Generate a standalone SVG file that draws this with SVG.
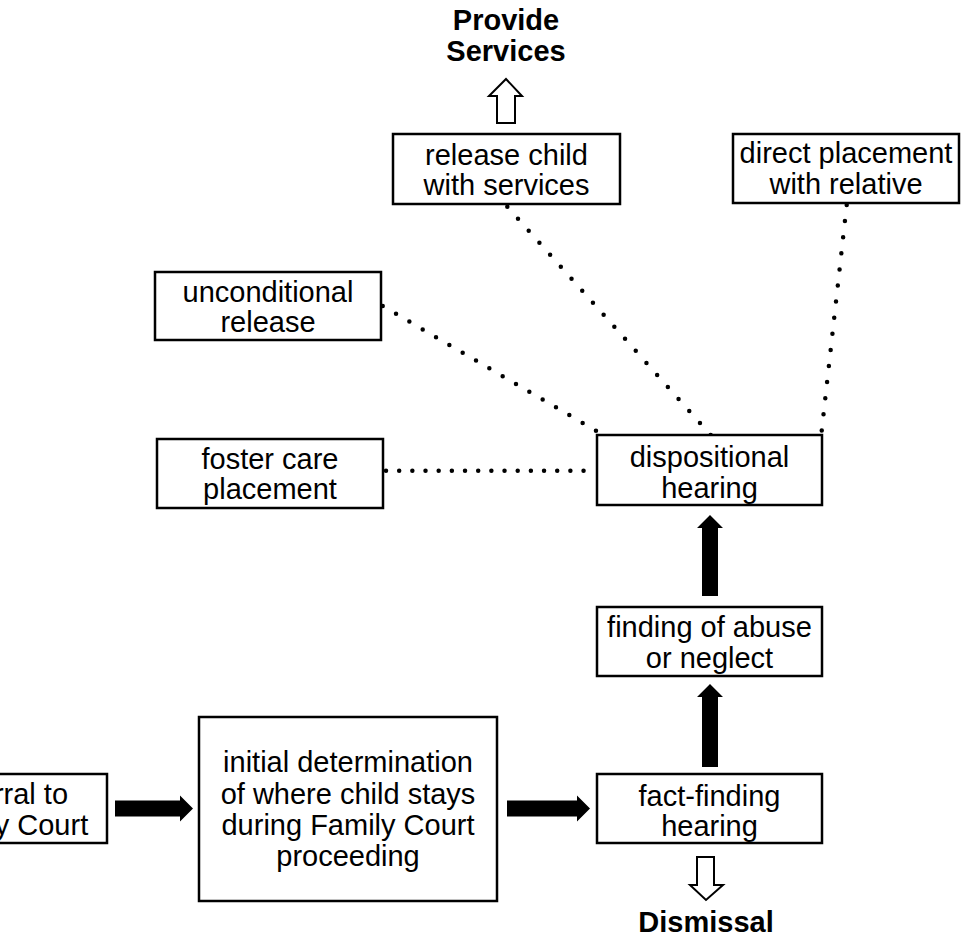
<svg xmlns="http://www.w3.org/2000/svg" width="966" height="939" viewBox="0 0 966 939">
<style>
.box{fill:#fff;stroke:#000;stroke-width:2.5}
.t{font-family:"Liberation Sans",Arial,sans-serif;font-size:29px;fill:#000;text-anchor:middle}
.b{font-weight:bold}
.dot{fill:none;stroke:#000;stroke-width:4.5;stroke-linecap:round}
.solid{fill:#000;stroke:none}
.hollow{fill:#fff;stroke:#000;stroke-width:2}
</style>
<rect width="966" height="939" fill="#fff"/>
<g id="connectors">
<line class="dot" x1="507.3" y1="206.7" x2="710.7" y2="435" stroke-dasharray="0 16.09"/>
<line class="dot" x1="382.7" y1="306" x2="596" y2="430.7" stroke-dasharray="0 15.44"/>
<line class="dot" x1="846.7" y1="205" x2="821.7" y2="430.7" stroke-dasharray="0 16.2"/>
<line class="dot" x1="386" y1="470.7" x2="596.7" y2="470.7" stroke-dasharray="0 13.17"/>
<path class="solid" d="M115,800.5 H180 V795.5 L193,808.5 L180,821.5 V816.5 H115 Z"/>
<path class="solid" d="M507,800.5 H577 V795.5 L590,808.5 L577,821.5 V816.5 H507 Z"/>
<path class="solid" d="M702,767 V697 H697 L710,684 L723,697 H718 V767 Z"/>
<path class="solid" d="M702,596 V528 H697 L710,515 L723,528 H718 V596 Z"/>
<path class="hollow" d="M497,123 V96 H489 L506,79 L522,96 H515 V123 Z"/>
<path class="hollow" d="M697,857 V885 H690 L706,900 L723,885 H714 V857 Z"/>
</g>
<g id="provide-services">
<text class="t b"><tspan x="506" y="30">Provide</tspan><tspan x="506" y="61">Services</tspan></text>
</g>
<g id="release-child">
<rect class="box" x="393" y="134" width="227" height="70"/>
<text class="t"><tspan x="506.5" y="165">release child</tspan><tspan x="506.5" y="195">with services</tspan></text>
</g>
<g id="direct-placement">
<rect class="box" x="733" y="134" width="226" height="69"/>
<text class="t"><tspan x="846" y="163">direct placement</tspan><tspan x="846" y="194">with relative</tspan></text>
</g>
<g id="unconditional-release">
<rect class="box" x="155" y="272" width="226" height="68"/>
<text class="t"><tspan x="268" y="302">unconditional</tspan><tspan x="268" y="332">release</tspan></text>
</g>
<g id="foster-care">
<rect class="box" x="157" y="439" width="226" height="69"/>
<text class="t"><tspan x="270" y="469">foster care</tspan><tspan x="270" y="499">placement</tspan></text>
</g>
<g id="dispositional-hearing">
<rect class="box" x="597" y="435" width="225" height="70"/>
<text class="t"><tspan x="709.5" y="467">dispositional</tspan><tspan x="709.5" y="498">hearing</tspan></text>
</g>
<g id="finding-abuse">
<rect class="box" x="597" y="607" width="225" height="69"/>
<text class="t"><tspan x="709.5" y="637">finding of abuse</tspan><tspan x="709.5" y="668">or neglect</tspan></text>
</g>
<g id="fact-finding">
<rect class="box" x="597" y="774" width="225" height="69"/>
<text class="t"><tspan x="709.5" y="806">fact-finding</tspan><tspan x="709.5" y="836">hearing</tspan></text>
</g>
<g id="referral">
<rect class="box" x="-95" y="774" width="202" height="69"/>
<text class="t"><tspan x="6" y="804">referral to</tspan><tspan x="6" y="835">Family Court</tspan></text>
</g>
<g id="initial-determination">
<rect class="box" x="199" y="717" width="298" height="184"/>
<text class="t"><tspan x="348" y="772">initial determination</tspan><tspan x="348" y="803.5">of where child stays</tspan><tspan x="348" y="835">during Family Court</tspan><tspan x="348" y="866">proceeding</tspan></text>
</g>
<g id="dismissal">
<text class="t b"><tspan x="706" y="932">Dismissal</tspan></text>
</g>
</svg>
